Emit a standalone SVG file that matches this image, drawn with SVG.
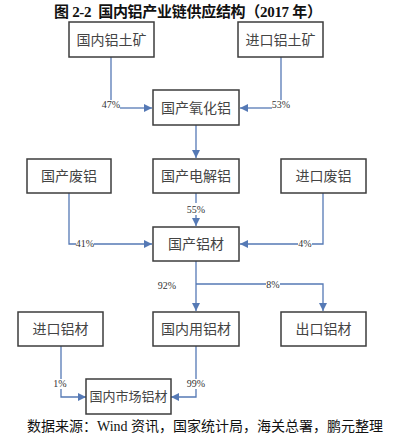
<svg xmlns="http://www.w3.org/2000/svg" width="413" height="438" viewBox="0 0 413 438">
<style>
.box{fill:#fff;stroke:#3d3d3d;stroke-width:1.5}
.bt{font-family:"Liberation Serif","Noto Sans CJK SC",serif;font-size:14px;fill:#444;text-anchor:middle}
.ln{fill:none;stroke:#5579b5;stroke-width:1.3}
.lb{font-family:"Liberation Serif","Noto Sans CJK SC",serif;font-size:10px;fill:#333;text-anchor:middle}
.bg{fill:#fff}
</style>
<defs>
<marker id="ah" markerUnits="userSpaceOnUse" markerWidth="8" markerHeight="8" refX="8" refY="4" orient="auto">
<path d="M0,0 L8,4 L0,8 z" fill="#5579b5"/>
</marker>
</defs>
<rect width="413" height="438" fill="#fff"/>
<text x="54" y="17" font-family="Liberation Serif,'Noto Sans CJK SC',serif" font-size="15" font-weight="bold" fill="#111" style="white-space:pre" textLength="268" lengthAdjust="spacing">图 2-2  国内铝产业链供应结构（2017 年）</text>

<g id="connectors">
<path class="ln" d="M111,57 V100" />
<path class="ln" d="M120,108 H152" marker-end="url(#ah)"/>
<path class="ln" d="M281,57 V100" />
<path class="ln" d="M272,108 H240" marker-end="url(#ah)"/>
<path class="ln" d="M196,125 V158" marker-end="url(#ah)"/>
<path class="ln" d="M196,193 V203" />
<path class="ln" d="M196,215 V226" marker-end="url(#ah)"/>
<path class="ln" d="M69,193 V244 H152" marker-end="url(#ah)"/>
<path class="ln" d="M323,193 V244 H240" marker-end="url(#ah)"/>
<path class="ln" d="M196,261 V311" marker-end="url(#ah)"/>
<path class="ln" d="M196,284 H323 V311" marker-end="url(#ah)"/>
<path class="ln" d="M61,346 V397 H86" marker-end="url(#ah)"/>
<path class="ln" d="M196,346 V397 H171" marker-end="url(#ah)"/>
<rect class="bg" x="76" y="239" width="18" height="10"/>
<rect class="bg" x="298" y="239" width="14" height="10"/>
<rect class="bg" x="266" y="279" width="14" height="10"/>
<rect class="bg" x="54" y="379" width="13" height="10"/>
<rect class="bg" x="187" y="379" width="19" height="10"/>
<text class="lb" x="111" y="108">47%</text>
<text class="lb" x="281" y="108">53%</text>
<text class="lb" x="196" y="213">55%</text>
<text class="lb" x="85" y="247">41%</text>
<text class="lb" x="305" y="247">4%</text>
<text class="lb" x="167" y="289">92%</text>
<text class="lb" x="273" y="288">8%</text>
<text class="lb" x="60" y="387">1%</text>
<text class="lb" x="196" y="387">99%</text>
</g>

<g id="n1"><rect class="box" x="69" y="22" width="85" height="35"/><text class="bt" x="111.5" y="44.5">国内铝土矿</text></g>
<g id="n2"><rect class="box" x="238" y="22" width="85" height="35"/><text class="bt" x="280.5" y="44.5">进口铝土矿</text></g>
<g id="n3"><rect class="box" x="153" y="90" width="86" height="35"/><text class="bt" x="196" y="112.5">国产氧化铝</text></g>
<g id="n4"><rect class="box" x="27" y="159" width="84" height="34"/><text class="bt" x="69" y="181">国产废铝</text></g>
<g id="n5"><rect class="box" x="153" y="159" width="86" height="34"/><text class="bt" x="196" y="181">国产电解铝</text></g>
<g id="n6"><rect class="box" x="281" y="159" width="85" height="34"/><text class="bt" x="323.5" y="181">进口废铝</text></g>
<g id="n7"><rect class="box" x="153" y="227" width="86" height="34"/><text class="bt" x="196" y="249">国产铝材</text></g>
<g id="n8"><rect class="box" x="18" y="312" width="85" height="34"/><text class="bt" x="60.5" y="334">进口铝材</text></g>
<g id="n9"><rect class="box" x="153" y="312" width="86" height="34"/><text class="bt" x="196" y="334">国内用铝材</text></g>
<g id="n10"><rect class="box" x="281" y="312" width="85" height="34"/><text class="bt" x="323.5" y="334">出口铝材</text></g>
<g id="n11"><rect class="box" x="86" y="379" width="85" height="35"/><text class="bt" x="128.5" y="401" style="font-size:13px">国内市场铝材</text></g>

<text x="27" y="431" font-family="Liberation Serif,'Noto Sans CJK SC',serif" font-size="14" fill="#111">数据来源：Wind 资讯，国家统计局，海关总署，鹏元整理</text>
</svg>
